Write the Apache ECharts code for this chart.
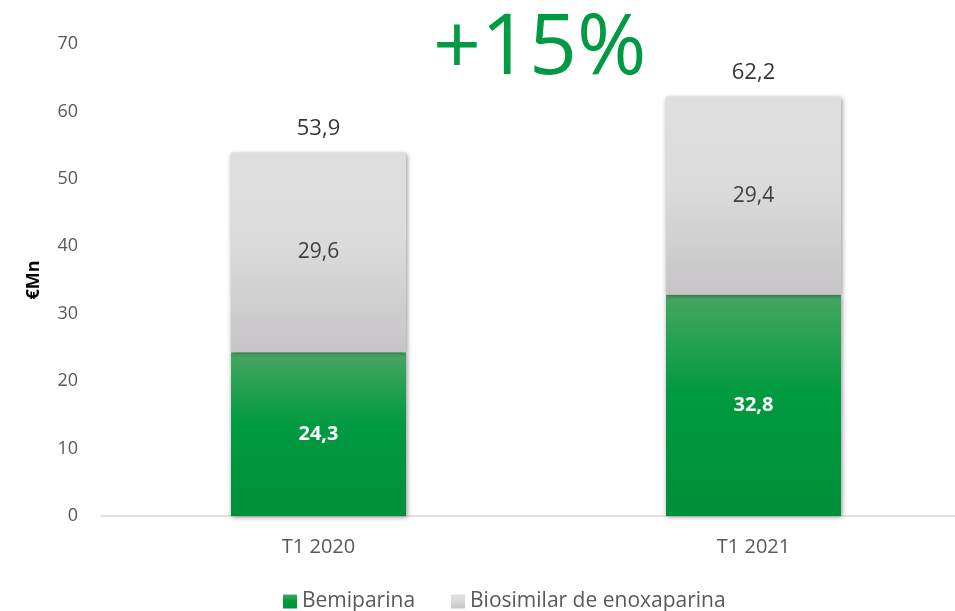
<!DOCTYPE html>
<html>
<head>
<meta charset="utf-8">
<script src="https://cdn.jsdelivr.net/npm/echarts@6/dist/echarts.min.js"></script>
<style>
  html, body { margin: 0; padding: 0; background: #fff; }
  #chart { width: 955px; height: 611px; }
</style>
</head>
<body>
<div id="chart"></div>
<script>
// datos del gráfico
const categories = ['T1 2020', 'T1 2021'];
const bemiparina = [24.3, 32.8];
const biosimilar = [29.6, 29.4];
const totals = [53.9, 62.2];
const seriesNames = ['Bemiparina', 'Biosimilar de enoxaparina'];
const growthText = '+15%';

const fmt = v => String(v.toFixed(1)).replace('.', ',');
const font = '"Open Sans", "Noto Sans", sans-serif';

const barShadow = {
  shadowBlur: 5,
  shadowColor: 'rgba(0,0,0,0.45)',
  shadowOffsetX: 1,
  shadowOffsetY: 1
};

const chart = echarts.init(document.getElementById('chart'));
chart.setOption({
  animation: false,
  textStyle: { fontFamily: font },
  grid: { left: 101, top: 44, width: 870, bottom: 95, outerBoundsMode: 'none' },
  title: {
    text: growthText,
    left: 428,
    top: 3,
    textStyle: { color: '#009a44', fontSize: 84, fontWeight: 'normal', fontFamily: font }
  },
  legend: {
    data: seriesNames,
    bottom: -6,
    left: 278,
    itemWidth: 14,
    itemHeight: 14,
    itemGap: 36,
    icon: 'rect',
    textStyle: { color: '#595959', fontSize: 21, fontFamily: font }
  },
  xAxis: {
    type: 'category',
    data: categories,
    axisLine: { lineStyle: { color: '#d9d9d9', width: 1.5 } },
    axisTick: { show: false },
    axisLabel: { color: '#595959', fontSize: 20, margin: 21 }
  },
  yAxis: {
    type: 'value',
    min: 0,
    max: 70,
    interval: 10,
    name: '€Mn',
    nameLocation: 'middle',
    nameGap: 58,
    nameTextStyle: { color: '#000', fontSize: 18, fontWeight: 'bold' },
    axisLine: { show: false },
    axisTick: { show: false },
    splitLine: { show: false },
    axisLabel: { color: '#595959', fontSize: 18, margin: 23 }
  },
  series: [
    {
      name: seriesNames[0],
      type: 'bar',
      stack: 'total',
      barWidth: 175,
      data: bemiparina,
      itemStyle: Object.assign({
        color: new echarts.graphic.LinearGradient(0, 0, 0, 1, [
          { offset: 0, color: '#47a663' },
          { offset: 0.45, color: '#009a40' },
          { offset: 1, color: '#008f3a' }
        ])
      }, barShadow),
      label: {
        show: true,
        position: 'inside',
        color: '#fff',
        fontWeight: 'bold',
        fontSize: 20,
        formatter: p => fmt(p.value)
      }
    },
    {
      name: seriesNames[1],
      type: 'bar',
      stack: 'total',
      barWidth: 175,
      data: biosimilar,
      itemStyle: Object.assign({
        color: new echarts.graphic.LinearGradient(0, 0, 0, 1, [
          { offset: 0, color: '#e0dfe0' },
          { offset: 0.45, color: '#dcdbdc' },
          { offset: 1, color: '#c6c4c6' }
        ])
      }, barShadow),
      label: {
        show: true,
        position: 'inside',
        color: '#404040',
        fontSize: 21,
        formatter: p => fmt(p.value)
      }
    },
    {
      name: 'total',
      type: 'scatter',
      data: totals,
      symbolSize: 0,
      silent: true,
      label: {
        show: true,
        position: 'top',
        distance: 13,
        color: '#000',
        fontSize: 22,
        formatter: p => fmt(p.value)
      }
    }
  ]
});
</script>
</body>
</html>
